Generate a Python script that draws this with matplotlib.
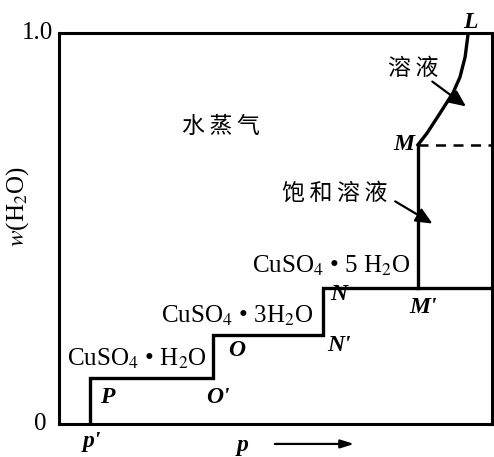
import matplotlib
matplotlib.use("Agg")
import matplotlib.pyplot as plt

plt.rcParams['font.family'] = ['Liberation Serif', 'Noto Sans CJK SC']
plt.rcParams['mathtext.fontset'] = 'stix'

# phase boundary (p scaled 0..1, w(H2O))
step_p = [0.072, 0.072, 0.356, 0.356, 0.610, 0.610, 1.0]
step_w = [0.0, 0.118, 0.118, 0.228, 0.228, 0.348, 0.348]
sat_p = [0.829, 0.829]
sat_w = [0.348, 0.714]
dash_p = [0.829, 1.0]
dash_w = [0.714, 0.714]
sol_p = [0.829, 0.850, 0.880, 0.910, 0.926, 0.938, 0.945]
sol_w = [0.714, 0.744, 0.795, 0.847, 0.887, 0.939, 1.0]

fig = plt.figure(figsize=(4.94, 4.57), dpi=100)
ax = fig.add_axes([59/494, 33/457, 433/494, 391/457])
ax.set_xlim(0, 1)
ax.set_ylim(0, 1)
for s in ax.spines.values():
    s.set_linewidth(2.2)
ax.set_xticks([])
ax.set_yticks([])

lw = 2.4
ax.plot(step_p, step_w, color='black', lw=lw, solid_joinstyle='miter')
ax.plot(sat_p, sat_w, color='black', lw=lw)
ax.plot(dash_p, dash_w, color='black', lw=1.8, ls=(0, (4, 3)))
ax.plot(sol_p, sol_w, color='black', lw=lw)

# CJK labels, thin space between characters
cjk = ['Noto Sans CJK SC', 'DejaVu Sans']
ts = '\u2009'
ax.text(0.374, 0.760, ts.join('水蒸气'), family=cjk, fontsize=16.5, ha='center', va='center')
ax.text(0.818, 0.908, ts.join('溶液'), family=cjk, fontsize=16.5, ha='center', va='center')
ax.text(0.637, 0.591, ts.join('饱和溶液'), family=cjk, fontsize=16.5, ha='center', va='center')

arrow = dict(arrowstyle='-|>,head_length=1.0,head_width=0.45', color='black', lw=1.6)
ax.annotate('', xy=(0.945, 0.808), xytext=(0.857, 0.880), arrowprops=arrow)
ax.annotate('', xy=(0.868, 0.509), xytext=(0.771, 0.573), arrowprops=arrow)

fs = 18
ax.text(0.628, 0.404, r'CuSO$_4$ • 5 H$_2$O', fontsize=fs, ha='center', va='center')
ax.text(0.411, 0.276, r'CuSO$_4$ • 3H$_2$O', fontsize=fs, ha='center', va='center')
ax.text(0.180, 0.166, r'CuSO$_4$ • H$_2$O', fontsize=fs, ha='center', va='center')

it = dict(fontsize=17, style='italic', weight='bold', ha='center', va='center')
ax.text(0.949, 1.028, 'L', **it)
ax.text(0.797, 0.714, 'M', **it)
ax.text(0.645, 0.330, 'N', **it)
ax.text(0.647, 0.202, "N'", **it)
ax.text(0.840, 0.299, "M'", **it)
ax.text(0.411, 0.187, 'O', **it)
ax.text(0.367, 0.069, "O'", **it)
ax.text(0.111, 0.069, 'P', **it)
ax.text(0.076, -0.046, "p'", clip_on=False, **it)
ax.text(0.425, -0.054, 'p', clip_on=False, **it)
ax.annotate('', xy=(0.688, -0.051), xytext=(0.492, -0.051), xycoords='data',
            arrowprops=dict(arrowstyle='-|>,head_length=0.8,head_width=0.25', color='black', lw=1.6),
            annotation_clip=False)

ax.text(-0.014, 1.0, '1.0', fontsize=18, ha='right', va='center')
ax.text(-0.03, 0.0, '0', fontsize=18, ha='right', va='center')
ax.text(-0.095, 0.555, r'$w$(H$_2$O)', fontsize=18, rotation=90, ha='center', va='center')

fig.savefig('out.png', dpi=100)
